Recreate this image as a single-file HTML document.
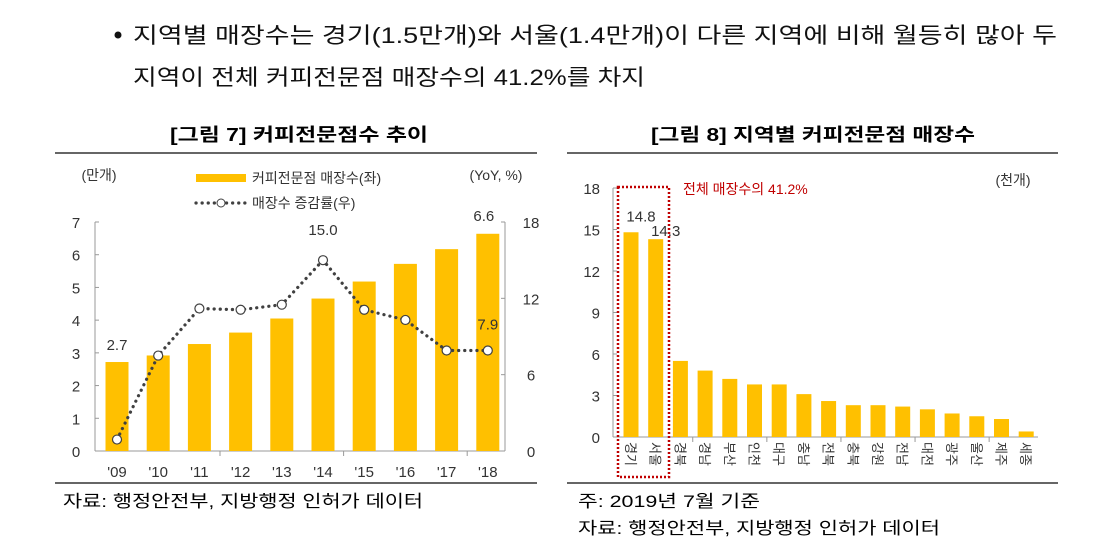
<!DOCTYPE html>
<html><head><meta charset="utf-8"><style>
html,body{margin:0;padding:0;background:#fff}
svg{display:block;font-family:"Liberation Sans","Noto Sans CJK KR",sans-serif}
</style></head><body>
<svg id="root" width="1113" height="554" viewBox="0 0 1113 554">
<g font-size="22" fill="#111">
<circle cx="118" cy="35" r="3.5" fill="#111"/>
<text x="133" y="43" textLength="924" lengthAdjust="spacingAndGlyphs">지역별 매장수는 경기(1.5만개)와 서울(1.4만개)이 다른 지역에 비해 월등히 많아 두</text>
<text x="133" y="85" textLength="512" lengthAdjust="spacingAndGlyphs">지역이 전체 커피전문점 매장수의 41.2%를 차지</text>
</g>
<text x="170" y="141" font-size="18" font-weight="bold" textLength="258" lengthAdjust="spacingAndGlyphs">[그림 7] 커피전문점수 추이</text>
<text x="651" y="141" font-size="18" font-weight="bold" textLength="324" lengthAdjust="spacingAndGlyphs">[그림 8] 지역별 커피전문점 매장수</text>
<line x1="55" y1="153" x2="537" y2="153" stroke="#333" stroke-width="1.5"/>
<line x1="567" y1="153" x2="1058" y2="153" stroke="#333" stroke-width="1.5"/>
<line x1="55" y1="483" x2="537" y2="483" stroke="#333" stroke-width="1.5"/>
<line x1="567" y1="483" x2="1058" y2="483" stroke="#333" stroke-width="1.5"/>
<text x="63" y="507" font-size="17" textLength="360" lengthAdjust="spacingAndGlyphs">자료: 행정안전부, 지방행정 인허가 데이터</text>
<text x="578" y="507" font-size="17" textLength="182" lengthAdjust="spacingAndGlyphs">주: 2019년 7월 기준</text>
<text x="578" y="534" font-size="17" textLength="362" lengthAdjust="spacingAndGlyphs">자료: 행정안전부, 지방행정 인허가 데이터</text>
<g id="left"></g>
<g id="right"></g>
</svg>
<script>
const years = ["'09","'10","'11","'12","'13","'14","'15","'16","'17","'18"];
const storeCounts = [2.72,2.92,3.27,3.62,4.05,4.66,5.18,5.72,6.17,6.64];
const yoyGrowth = [0.9,7.5,11.2,11.1,11.5,15.0,11.1,10.3,7.9,7.9];
const leftTicks = [0,1,2,3,4,5,6,7];
const rightTicks = [0,6,12,18];
const regions = ["경기","서울","경북","경남","부산","인천","대구","충남","전북","충북","강원","전남","대전","광주","울산","제주","세종"];
const regionCounts = [14.8,14.3,5.5,4.8,4.2,3.8,3.8,3.1,2.6,2.3,2.3,2.2,2.0,1.7,1.5,1.3,0.4];
const regionTicks = [0,3,6,9,12,15,18];

const NS="http://www.w3.org/2000/svg";
function mk(parent,tag,attrs,text){const e=document.createElementNS(NS,tag);for(const k in attrs)e.setAttribute(k,attrs[k]);if(text!==undefined)e.textContent=text;parent.appendChild(e);return e;}
const GOLD="#FFC000";

// Left chart
const L=document.getElementById('left');
const yL=v=>451-v*(229/7);
const yR=v=>451-v*(229/18);
const xL=i=>117+i*41.2;
let e;
e=mk(L,'line',{x1:95,y1:451,x2:505,y2:451,stroke:'#999'});


e=mk(L,'line',{x1:95,y1:222,x2:95,y2:451,stroke:'#999'});


e=mk(L,'line',{x1:505,y1:222,x2:505,y2:451,stroke:'#999'});


leftTicks.forEach(t=>{
  e=mk(L,'text',{x:76,y:yL(t)+6,'font-size':15,fill:'#333','text-anchor':'middle'},String(t));
  
  
  mk(L,'line',{x1:95,y1:yL(t),x2:99,y2:yL(t),stroke:'#999'});
});
rightTicks.forEach(t=>{
  e=mk(L,'text',{x:531,y:yR(t)+6,'font-size':15,fill:'#333','text-anchor':'middle'},String(t));
  
  
  mk(L,'line',{x1:501,y1:yR(t),x2:505,y2:yR(t),stroke:'#999'});
});
[3,6,9].forEach(i=>mk(L,'line',{x1:xL(i)-20.6,y1:451,x2:xL(i)-20.6,y2:456,stroke:'#999'}));
storeCounts.forEach((v,i)=>{
  e=mk(L,'rect',{x:xL(i)-11.5,y:yL(v),width:23,height:451-yL(v),fill:GOLD});
  
  
  e=mk(L,'text',{x:xL(i),y:477,'font-size':15,fill:'#333','text-anchor':'middle'},years[i]);
  
  
});
e=mk(L,'polyline',{points:yoyGrowth.map((v,i)=>xL(i)+','+yR(v)).join(' '),fill:'none',stroke:'#404040','stroke-width':3.2,'stroke-dasharray':'0.1 6','stroke-linecap':'round'});


yoyGrowth.forEach((v,i)=>{
  e=mk(L,'circle',{cx:xL(i),cy:yR(v),r:4.5,fill:'#fff',stroke:'#404040','stroke-width':1.2});
  
  
});
function lbl(p,x,y,t,name,fs){e=mk(p,'text',{x:x,y:y,'font-size':fs||15,fill:'#333','text-anchor':'middle'},t);}
lbl(L,xL(0),yL(storeCounts[0])-12,storeCounts[0].toFixed(1),'label-2009');
lbl(L,xL(9)-4,yL(storeCounts[9])-13,storeCounts[9].toFixed(1),'label-2018');
lbl(L,xL(5),yR(yoyGrowth[5])-25,yoyGrowth[5].toFixed(1),'label-yoy-peak');
lbl(L,xL(9),yR(yoyGrowth[9])-21,yoyGrowth[9].toFixed(1),'label-yoy-last');
lbl(L,99,180,'(만개)','left-unit',14);
lbl(L,496,180,'(YoY, %)','right-unit',14);
e=mk(L,'rect',{x:196,y:174,width:50,height:8,fill:GOLD});


e=mk(L,'text',{x:252,y:183,'font-size':14,fill:'#333'},'커피전문점 매장수(좌)');


e=mk(L,'line',{x1:196,y1:203,x2:246,y2:203,stroke:'#404040','stroke-width':3.2,'stroke-dasharray':'0.1 6','stroke-linecap':'round'});


mk(L,'circle',{cx:221,cy:203,r:4,fill:'#fff',stroke:'#404040'});
e=mk(L,'text',{x:252,y:208,'font-size':14,fill:'#333'},'매장수 증감률(우)');



// Right chart
const R=document.getElementById('right');
const yC=v=>437-v*(249/18);
const xC=i=>631+i*24.7;
e=mk(R,'line',{x1:613,y1:437,x2:1038,y2:437,stroke:'#999'});


e=mk(R,'line',{x1:613,y1:188,x2:613,y2:437,stroke:'#999'});


regionTicks.forEach(t=>{
  e=mk(R,'text',{x:600,y:yC(t)+6,'font-size':15,fill:'#333','text-anchor':'end'},String(t));
  
  
  mk(R,'line',{x1:613,y1:yC(t),x2:617,y2:yC(t),stroke:'#999'});
});
[3,6,9,12,15].forEach(i=>mk(R,'line',{x1:xC(i)-12.35,y1:437,x2:xC(i)-12.35,y2:442,stroke:'#999'}));
regionCounts.forEach((v,i)=>{
  e=mk(R,'rect',{x:xC(i)-7.5,y:yC(v),width:15,height:437-yC(v),fill:GOLD});
  
  
  e=mk(R,'text',{x:0,y:0,'font-size':13,fill:'#333',transform:`translate(${xC(i)-5},442) rotate(90)`},regions[i]);
  
  
});
lbl(R,xC(0)+10,yC(regionCounts[0])-11,regionCounts[0].toFixed(1),'label-gyeonggi');
lbl(R,xC(1)+10,yC(regionCounts[1])-3,regionCounts[1].toFixed(1),'label-seoul');
e=mk(R,'rect',{x:618,y:187,width:51,height:290,fill:'none',stroke:'#C00000','stroke-width':2.5,'stroke-dasharray':'2 2'});


e=mk(R,'text',{x:683,y:194,'font-size':14,fill:'#C00000'},'전체 매장수의 41.2%');


lbl(R,1013,185,'(천개)','unit-label',14);
</script>
</body></html>
